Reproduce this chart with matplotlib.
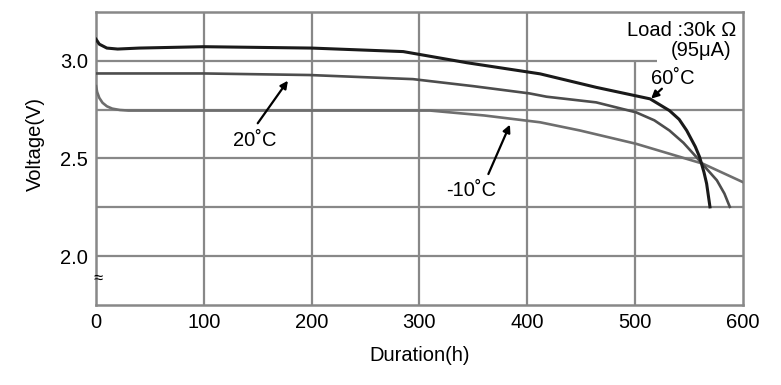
import matplotlib
matplotlib.use("Agg")
import matplotlib.pyplot as plt

plt.rcParams["font.family"] = ["Liberation Sans", "DejaVu Sans"]

# discharge curves
h_60 = [0, 3, 10, 20, 40, 100, 200, 285, 344, 412, 464, 514, 532, 541, 548, 556, 560, 564, 566.5, 569.6]
v_60 = [3.11, 3.085, 3.065, 3.06, 3.065, 3.072, 3.065, 3.047, 2.99, 2.933, 2.864, 2.805, 2.745, 2.70, 2.643, 2.56, 2.507, 2.43, 2.371, 2.252]

h_20 = [0, 100, 198, 294, 350, 402, 418, 464, 501, 518, 532, 545, 557, 566, 576, 583, 588]
v_20 = [2.935, 2.935, 2.927, 2.906, 2.87, 2.833, 2.816, 2.787, 2.736, 2.695, 2.643, 2.58, 2.507, 2.45, 2.388, 2.32, 2.252]

h_m10 = [0, 1, 3, 6, 10, 15, 22, 30, 60, 150, 310, 360, 412, 449, 501, 563, 600]
v_m10 = [2.87, 2.84, 2.81, 2.785, 2.767, 2.755, 2.748, 2.745, 2.745, 2.745, 2.745, 2.72, 2.685, 2.643, 2.575, 2.473, 2.379]

x_ticks = [0, 100, 200, 300, 400, 500, 600]
y_ticks = [2.0, 2.5, 3.0]

grid_c = "#888888"
fs = 14.5

fig = plt.figure(figsize=(7.81, 3.85), dpi=100)
ax = fig.add_axes([0.123, 0.208, 0.828, 0.761])
ax.set_xlim(0, 600)
ax.set_ylim(1.75, 3.25)

# grid (partly cut around the load label)
ax.hlines([2.0, 2.25, 2.5, 2.75], 0, 600, color=grid_c, lw=1.6, zorder=1)
ax.hlines(3.0, 0, 520, color=grid_c, lw=1.6, zorder=1)
ax.vlines([100, 200, 300, 400], 1.75, 3.25, color=grid_c, lw=1.6, zorder=1)
ax.vlines(500, 1.75, 3.0, color=grid_c, lw=1.6, zorder=1)
for s in ax.spines.values():
    s.set_color(grid_c)
    s.set_linewidth(1.8)

ax.plot(h_m10, v_m10, color="#6e6e6e", lw=1.9, zorder=3)
ax.plot(h_20, v_20, color="#4d4d4d", lw=1.9, zorder=3)
ax.plot(h_60, v_60, color="#1a1a1a", lw=2.2, zorder=4)

ax.set_xticks(x_ticks)
ax.set_yticks(y_ticks)
ax.set_yticklabels(["2.0", "2.5", "3.0"])
ax.tick_params(length=0, labelsize=fs, pad=6)
ax.set_xlabel("Duration(h)", fontsize=fs)
ax.set_ylabel("Voltage(V)", fontsize=fs)
ax.xaxis.set_label_coords(0.5, -0.14)
ax.yaxis.set_label_coords(-0.079, 0.55)

ax.text(2, 1.885, "≈", fontsize=12, ha="center", va="center", zorder=5)

arr = dict(arrowstyle="-|>", color="black", lw=1.6, mutation_scale=11, shrinkA=0, shrinkB=0)
ax.annotate("", xy=(178, 2.898), xytext=(150, 2.68), arrowprops=arr)
ax.text(147, 2.592, "20˚C", fontsize=fs, ha="center", va="center")
ax.annotate("", xy=(384, 2.673), xytext=(364, 2.42), arrowprops=arr)
ax.text(348, 2.337, "-10˚C", fontsize=fs, ha="center", va="center")
ax.annotate("", xy=(515, 2.806), xytext=(525, 2.857), arrowprops=arr)
ax.text(535, 2.908, "60˚C", fontsize=fs, ha="center", va="center")

ax.text(594, 3.153, "Load :30k Ω", fontsize=fs, ha="right", va="center")
ax.text(589, 3.055, "(95μA)", fontsize=fs, ha="right", va="center")

fig.savefig("out.png", dpi=100)
